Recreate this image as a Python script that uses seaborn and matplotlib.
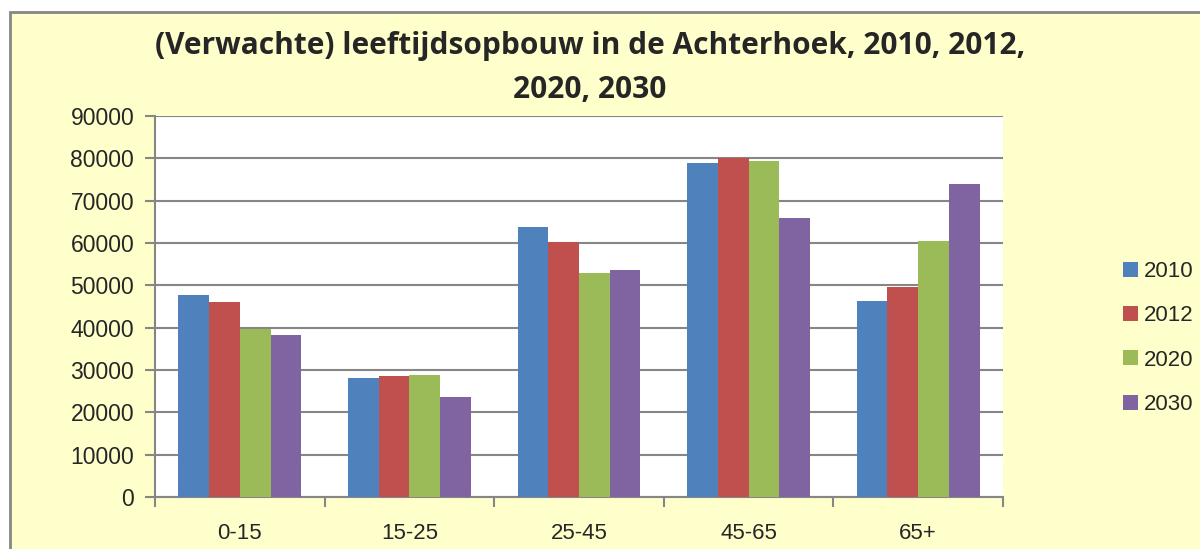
import matplotlib
matplotlib.use("Agg")
import matplotlib.pyplot as plt
from matplotlib.patches import Rectangle
from matplotlib.ticker import FixedLocator
import seaborn as sns
import pandas as pd

categories = ["0-15", "15-25", "25-45", "45-65", "65+"]
years = ["2010", "2012", "2020", "2030"]
v2010 = [47700, 28100, 63800, 78900, 46300]
v2012 = [46100, 28600, 60300, 80000, 49600]
v2020 = [39700, 28900, 52900, 79300, 60500]
v2030 = [38300, 23700, 53600, 65900, 73900]
colors = ["#4F81BD", "#C0504D", "#9BBB59", "#8064A2"]
title = "(Verwachte) leeftijdsopbouw in de Achterhoek, 2010, 2012,\n2020, 2030"

rows = []
for y, vals in zip(years, [v2010, v2012, v2020, v2030]):
    for c, v in zip(categories, vals):
        rows.append({"cat": c, "year": y, "value": v})
df = pd.DataFrame(rows)

sns.set_style("white")
plt.rcParams["font.family"] = ["Liberation Sans", "DejaVu Sans"]

fig = plt.figure(figsize=(12, 5.49), dpi=100, facecolor="white")
bg = Rectangle((10 / 1200, -0.05), 1.2, 1 - 12 / 549 + 0.05, transform=fig.transFigure,
               facecolor="#FFFFCC", edgecolor="#868686", linewidth=2, zorder=-10)
fig.patches.append(bg)

ax = fig.add_axes([155 / 1200, 1 - 497 / 549, (1003 - 155) / 1200, (497 - 116) / 549])
sns.barplot(data=df, x="cat", y="value", hue="year", order=categories, hue_order=years,
            palette=colors, saturation=1, width=0.725, linewidth=0, ax=ax, zorder=3)
ax.set_facecolor("white")
ax.set_ylim(0, 90000)
ax.set_xlim(-0.5, 4.5)
ax.set_yticks(range(0, 90001, 10000))
ax.set_yticklabels([str(v) for v in range(0, 90001, 10000)], fontsize=16.5)
ax.set_xticks(range(5))
ax.set_xticklabels(categories, fontsize=16)
ax.xaxis.set_minor_locator(FixedLocator([-0.5, 0.5, 1.5, 2.5, 3.5, 4.5]))
ax.tick_params(axis="x", which="major", length=0, pad=19)
ax.tick_params(axis="x", which="minor", length=7, color="#868686", width=1.5, direction="out", bottom=True)
ax.tick_params(axis="y", length=7, color="#868686", width=1.5, direction="out", left=True, pad=8)
ax.grid(axis="y", color="#868686", linewidth=1.5, zorder=0)
ax.set_axisbelow(True)
for s in ["top", "right"]:
    ax.spines[s].set_visible(False)
for s in ["left", "bottom"]:
    ax.spines[s].set_color("#868686")
    ax.spines[s].set_linewidth(1.5)
ax.set_xlabel("")
ax.set_ylabel("")

handles, labels = ax.get_legend_handles_labels()
ax.legend(handles, labels, loc="center left", bbox_to_anchor=(1112 / 1200, 1 - 338 / 549),
          bbox_transform=fig.transFigure, frameon=False, fontsize=16, handlelength=0.65,
          handleheight=0.65, handletextpad=0.3, labelspacing=1.05, borderpad=0)

fig.text(590 / 1200, 1 - 68 / 549, title, ha="center", va="center", fontsize=21.5,
         fontweight="bold", family=["Open Sans", "DejaVu Sans"], linespacing=1.6)

fig.savefig("out.png", dpi=100, facecolor="white")
